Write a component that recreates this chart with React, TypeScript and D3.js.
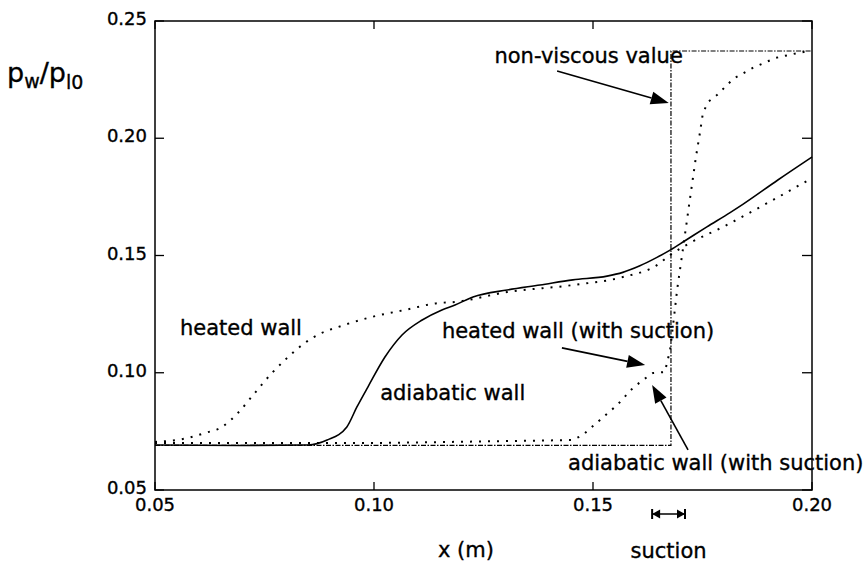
import React from "react";
import * as d3 from "d3";

const xDomain = [0.05, 0.2];
const yDomain = [0.05, 0.25];
const xTicks = [0.05, 0.1, 0.15, 0.2];
const yTicks = [0.05, 0.1, 0.15, 0.2, 0.25];

// adiabatic wall (solid)
const adiabaticX = [0.05, 0.07, 0.0849, 0.0893, 0.0938, 0.0961, 0.0986, 0.1025, 0.1064, 0.111, 0.1155, 0.1185, 0.1226, 0.1304, 0.1379, 0.1454, 0.1532, 0.1568, 0.1607, 0.1646, 0.1676, 0.171, 0.176, 0.1813, 0.1842, 0.1922, 0.2];
const adiabaticY = [0.0692, 0.069, 0.0692, 0.0713, 0.0769, 0.0854, 0.0939, 0.1067, 0.1161, 0.1225, 0.1268, 0.1289, 0.1323, 0.1353, 0.1374, 0.1396, 0.1412, 0.1428, 0.1456, 0.1492, 0.1523, 0.1563, 0.1622, 0.1683, 0.1718, 0.1822, 0.192];

// heated wall (dotted)
const heatedX = [0.05, 0.0575, 0.0614, 0.0653, 0.0689, 0.0728, 0.0767, 0.0804, 0.0842, 0.0881, 0.0918, 0.0995, 0.1071, 0.1146, 0.1185, 0.1304, 0.1454, 0.1568, 0.1646, 0.1676, 0.1721, 0.1797, 0.1911, 0.2];
const heatedY = [0.0705, 0.0722, 0.0743, 0.0769, 0.0828, 0.0914, 0.0999, 0.1067, 0.1127, 0.117, 0.1195, 0.1238, 0.1268, 0.1297, 0.1302, 0.1344, 0.1374, 0.1408, 0.1459, 0.1502, 0.1553, 0.1622, 0.1737, 0.183];

// with suction (dotted)
const suctionX = [0.05, 0.1, 0.1454, 0.1477, 0.1516, 0.1555, 0.1591, 0.1614, 0.1637, 0.1664, 0.1676, 0.1685, 0.1692, 0.1705, 0.1721, 0.1735, 0.1744, 0.1751, 0.1763, 0.1783, 0.182, 0.1865, 0.1916, 0.1968, 0.1995];
const suctionY = [0.07, 0.07, 0.0713, 0.0735, 0.0799, 0.0862, 0.0935, 0.0969, 0.0999, 0.1003, 0.1097, 0.1238, 0.1353, 0.1523, 0.1737, 0.192, 0.2022, 0.2108, 0.2155, 0.2184, 0.2253, 0.23, 0.2342, 0.2364, 0.2372];

// non-viscous value (dash-dot)
const inviscidX = [0.05, 0.1678, 0.1678, 0.2];
const inviscidY = [0.069, 0.069, 0.2372, 0.2372];

const labels = [
  { text: "heated wall", x: 0.0557, y: 0.1161 },
  { text: "adiabatic wall", x: 0.1014, y: 0.0884 },
  { text: "heated wall (with suction)", x: 0.1155, y: 0.1148 },
  { text: "adiabatic wall (with suction)", x: 0.1443, y: 0.0585 },
  { text: "non-viscous value", x: 0.1275, y: 0.2321 },
];

const arrows = [
  { x1: 0.1418, y1: 0.2287, x2: 0.1673, y2: 0.215 },
  { x1: 0.1429, y1: 0.1106, x2: 0.1619, y2: 0.1033 },
  { x1: 0.1717, y1: 0.0671, x2: 0.1635, y2: 0.0948 },
];

const suctionRange = [0.1635, 0.171];

const W = 868, H = 570;
const L = 155, R = 812, T = 21, B = 490;
const FONT = "'DejaVu Sans', sans-serif";

export default function App() {
  const x = d3.scaleLinear().domain(xDomain).range([L, R]);
  const y = d3.scaleLinear().domain(yDomain).range([B, T]);
  const zip = (xs: number[], ys: number[]) => xs.map((v, i) => [v, ys[i]] as [number, number]);
  const lin = d3.line<[number, number]>().x(d => x(d[0])).y(d => y(d[1]));
  const smooth = d3.line<[number, number]>().x(d => x(d[0])).y(d => y(d[1])).curve(d3.curveMonotoneX);

  const arrowEls = arrows.map((a, i) => {
    const tx = x(a.x1), ty = y(a.y1), hx = x(a.x2), hy = y(a.y2);
    const dx = hx - tx, dy = hy - ty;
    const len = Math.hypot(dx, dy);
    const ux = dx / len, uy = dy / len;
    const hl = 18, hw = 6.5;
    const bx = hx - ux * hl, by = hy - uy * hl;
    const pts = `${hx},${hy} ${bx - uy * hw},${by + ux * hw} ${bx + uy * hw},${by - ux * hw}`;
    return (
      <g key={i}>
        <line x1={tx} y1={ty} x2={bx} y2={by} stroke="#000" strokeWidth={1.6} />
        <polygon points={pts} fill="#000" />
      </g>
    );
  });

  const sx0 = x(suctionRange[0]), sx1 = x(suctionRange[1]), sy = 514;
  const txtStroke = { stroke: "#000", strokeWidth: 0.35 };

  return (
    <svg width={W} height={H} style={{ position: "absolute", left: 0, top: 0, background: "#fff" }} fontFamily={FONT}>
      <rect x={0} y={0} width={W} height={H} fill="#fff" />
      {/* frame */}
      <rect x={L} y={T} width={R - L} height={B - T} fill="none" stroke="#000" strokeWidth={1.5} />
      {/* ticks */}
      {xTicks.map(t => (
        <g key={"xt" + t}>
          <line x1={x(t)} x2={x(t)} y1={B} y2={B - 8} stroke="#000" strokeWidth={1.3} />
          <line x1={x(t)} x2={x(t)} y1={T} y2={T + 8} stroke="#000" strokeWidth={1.3} />
          <text x={x(t)} y={511} fontSize={18} textAnchor="middle" {...txtStroke}>{t.toFixed(2)}</text>
        </g>
      ))}
      {yTicks.map(t => (
        <g key={"yt" + t}>
          <line x1={L} x2={L + 9} y1={y(t)} y2={y(t)} stroke="#000" strokeWidth={1.3} />
          <line x1={R} x2={R - 10} y1={y(t)} y2={y(t)} stroke="#000" strokeWidth={1.3} />
          <text x={147} y={y(t) + 4} fontSize={18} textAnchor="end" {...txtStroke}>{t.toFixed(2)}</text>
        </g>
      ))}
      {/* curves */}
      <path d={lin(zip(inviscidX, inviscidY)) || ""} fill="none" stroke="#000" strokeWidth={1.2} strokeDasharray="5 1.5 1.5 1.5" />
      <path d={smooth(zip(adiabaticX, adiabaticY)) || ""} fill="none" stroke="#000" strokeWidth={1.6} />
      <path d={smooth(zip(heatedX, heatedY)) || ""} fill="none" stroke="#000" strokeWidth={2} strokeDasharray="2 7" />
      <path d={lin(zip(suctionX, suctionY)) || ""} fill="none" stroke="#000" strokeWidth={2} strokeDasharray="2 7" />
      {/* labels */}
      {labels.map(l => (
        <text key={l.text} x={x(l.x)} y={y(l.y)} fontSize={21} {...txtStroke}>{l.text}</text>
      ))}
      {arrowEls}
      {/* axis titles */}
      <text x={466} y={557} fontSize={21} textAnchor="middle" {...txtStroke}>x (m)</text>
      <text x={7} y={82} fontSize={27} {...txtStroke}>
        p<tspan fontSize={19} dy={6}>w</tspan><tspan fontSize={27} dy={-6}>/p</tspan><tspan fontSize={19} dy={7}>l0</tspan>
      </text>
      {/* suction bracket */}
      <line x1={sx0} x2={sx1} y1={sy} y2={sy} stroke="#000" strokeWidth={1.5} />
      <line x1={sx0} x2={sx0} y1={sy - 5} y2={sy + 5} stroke="#000" strokeWidth={2} />
      <line x1={sx1} x2={sx1} y1={sy - 5} y2={sy + 5} stroke="#000" strokeWidth={2} />
      <polygon points={`${sx0},${sy} ${sx0 + 8},${sy - 4.5} ${sx0 + 8},${sy + 4.5}`} fill="#000" />
      <polygon points={`${sx1},${sy} ${sx1 - 8},${sy - 4.5} ${sx1 - 8},${sy + 4.5}`} fill="#000" />
      <text x={(sx0 + sx1) / 2} y={558} fontSize={21} textAnchor="middle" {...txtStroke}>suction</text>
    </svg>
  );
}
